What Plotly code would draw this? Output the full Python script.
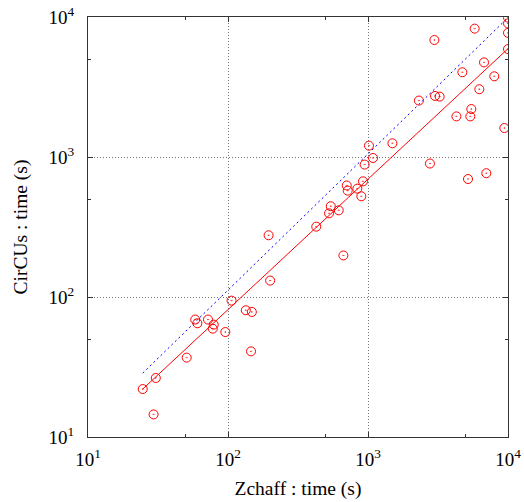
import plotly.graph_objects as go

# Zchaff time (s) vs CirCUs time (s)
zchaff = [10000, 10000, 10000, 10000, 5780, 2980, 6740, 4720, 7980, 6240,
          2310, 3010, 3250, 5470, 4280, 5380, 9420, 1016, 1494, 1086,
          2770, 946, 7000, 5180, 921, 705, 716, 839, 896, 542,
          527, 618, 427, 195, 200, 106, 134, 148, 58.3, 60.4,
          72.0, 79.1, 77.8, 95.7, 146, 50.7, 30.5, 24.6, 29.4, 667]
circus = [9900, 9000, 7700, 5900, 8260, 6850, 4740, 4030, 3770, 3050,
          2530, 2730, 2700, 2200, 1950, 1950, 1610, 1205, 1253, 984,
          898, 883, 766, 696, 670, 626, 575, 594, 524, 445,
          396, 416, 318, 276, 131, 94.2, 80.4, 78.2, 69.0, 64.9,
          69.0, 63.5, 59.4, 56.2, 40.9, 36.9, 26.4, 22.0, 14.5, 198]

# fitted power-law line (red) and reference line (blue)
fit_x = [24.6, 10000]
fit_y = [22.0, 5940]
ref_x = [24.6, 10000]
ref_y = [28.6, 9900]

major_vals = [10, 100, 1000, 10000]
major_text = ["10<sup>1</sup>", "10<sup>2</sup>", "10<sup>3</sup>", "10<sup>4</sup>"]
minor_vals = [50, 500, 5000]

fig = go.Figure()
fig.add_trace(go.Scatter(x=ref_x, y=ref_y, mode="lines",
                         line=dict(color="blue", width=1, dash="2px,3px"),
                         showlegend=False))
fig.add_trace(go.Scatter(x=fit_x, y=fit_y, mode="lines",
                         line=dict(color="red", width=1),
                         showlegend=False))
fig.add_trace(go.Scatter(x=zchaff, y=circus, mode="markers",
                         marker=dict(symbol="circle-open-dot", size=9,
                                     color="red", line=dict(width=1, color="red")),
                         showlegend=False))

family = "Times New Roman, Liberation Serif, serif"
tick_font = dict(family=family, size=19, color="black")
title_font = dict(family=family, size=19.5, color="black")

axis_common = dict(
    type="log",
    tickmode="array",
    tickvals=major_vals,
    ticktext=major_text,
    ticks="inside",
    ticklen=5,
    tickwidth=1,
    tickcolor="#333",
    showline=True,
    linecolor="#333",
    linewidth=1,
    mirror="allticks",
    showgrid=True,
    gridcolor="#777",
    griddash="1px,2px",
    gridwidth=1,
    zeroline=False,
    automargin=False,
    ticklabeloverflow="allow",
    tickfont=tick_font,
    minor=dict(tickmode="array", tickvals=minor_vals, ticks="inside",
               ticklen=3, tickcolor="#333", showgrid=False),
)

fig.update_xaxes(range=[1, 4], title=dict(text="Zchaff : time (s)", font=title_font, standoff=12),
                 ticklabelstandoff=5, **axis_common)
fig.update_yaxes(range=[1, 4], title=dict(text="CirCUs : time (s)", font=title_font, standoff=15),
                 ticklabelstandoff=9, **axis_common)

fig.update_layout(
    width=524, height=502,
    margin=dict(l=88, r=16, t=17, b=65),
    plot_bgcolor="white",
    paper_bgcolor="white",
    font=title_font,
)

fig.write_html("out.html",
               config={"displayModeBar": False},
               post_script="document.body.style.margin='0';document.body.style.overflow='hidden';")
